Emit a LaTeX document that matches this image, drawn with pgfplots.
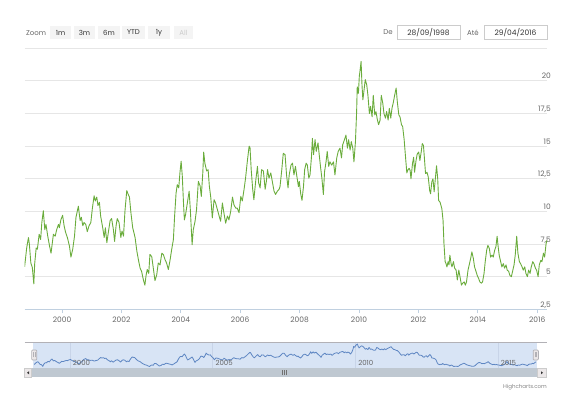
\documentclass[border=0pt]{standalone}
\usepackage{fontspec}
\setmainfont{Poppins}
\usepackage{pgfplots}
\usepackage{pgfplotstable}
\pgfplotsset{compat=1.18}
\definecolor{linegreen}{RGB}{106,172,60}
\definecolor{gridc}{RGB}{230,230,230}
\definecolor{axisc}{RGB}{192,208,224}
\definecolor{labc}{RGB}{102,102,102}
\definecolor{navfill}{RGB}{216,228,245}
\definecolor{navgrid}{RGB}{200,212,232}
\definecolor{navline}{RGB}{95,135,195}
\definecolor{btnfill}{RGB}{244,244,244}
\definecolor{boxborder}{RGB}{204,204,204}
\definecolor{scrollthumb}{RGB}{191,200,209}
\definecolor{scrollbtn}{RGB}{235,231,232}
\definecolor{handleborder}{RGB}{178,177,182}
\definecolor{txtdark}{RGB}{51,51,51}

\pgfplotstableread{
year val
1998.74 5.75
1998.81 7.2
1998.87 8.0
1998.90 7.5
1998.95 6.05
1999.00 5.7
1999.05 4.45
1999.08 6.0
1999.13 7.2
1999.17 7.1
1999.23 8.25
1999.28 7.85
1999.32 9.15
1999.37 10.05
1999.42 8.6
1999.46 9.0
1999.52 8.1
1999.58 7.35
1999.63 6.8
1999.68 7.7
1999.71 8.25
1999.77 8.1
1999.82 8.6
1999.88 9.0
1999.91 8.75
1999.96 9.35
2000.02 9.7
2000.07 8.9
2000.12 8.4
2000.18 8.0
2000.25 7.35
2000.30 6.5
2000.36 7.1
2000.42 8.1
2000.47 9.55
2000.55 10.4
2000.61 9.3
2000.65 9.55
2000.70 8.9
2000.74 9.15
2000.80 9.0
2000.85 8.45
2000.91 8.9
2000.97 9.15
2001.02 10.2
2001.08 11.2
2001.12 10.8
2001.17 11.1
2001.21 10.45
2001.26 10.7
2001.30 9.65
2001.37 8.75
2001.42 8.0
2001.46 8.75
2001.51 7.6
2001.56 8.4
2001.62 9.3
2001.67 9.45
2001.73 8.6
2001.77 7.7
2001.82 8.9
2001.86 9.45
2001.92 9.15
2001.98 8.0
2002.02 8.5
2002.07 8.1
2002.12 10.05
2002.18 11.6
2002.22 11.35
2002.27 11.1
2002.32 9.9
2002.38 8.75
2002.46 8.0
2002.52 6.95
2002.58 6.2
2002.63 5.65
2002.68 5.4
2002.74 4.75
2002.79 4.35
2002.83 5.1
2002.87 5.55
2002.92 5.25
2002.96 6.7
2003.02 6.55
2003.08 5.55
2003.13 4.7
2003.19 5.15
2003.24 6.05
2003.30 5.9
2003.36 6.8
2003.41 6.7
2003.47 6.3
2003.52 6.05
2003.58 5.55
2003.64 6.3
2003.69 7.05
2003.75 7.85
2003.79 9.6
2003.84 11.4
2003.88 12.05
2003.93 11.8
2003.97 12.95
2004.01 13.85
2004.05 12.7
2004.09 10.65
2004.12 9.35
2004.16 9.75
2004.22 10.65
2004.28 11.55
2004.32 10.15
2004.38 7.45
2004.42 8.6
2004.48 9.25
2004.53 10.15
2004.59 12.3
2004.65 11.95
2004.69 11.15
2004.74 12.95
2004.77 14.55
2004.81 13.7
2004.87 13.1
2004.92 13.2
2004.96 11.95
2005.01 11.05
2005.06 9.5
2005.12 10.9
2005.17 10.65
2005.23 10.15
2005.29 9.65
2005.34 9.25
2005.40 10.65
2005.45 9.9
2005.51 9.1
2005.57 9.65
2005.62 9.35
2005.68 10.0
2005.74 11.1
2005.79 10.5
2005.85 10.25
2005.90 10.25
2005.96 9.9
2006.02 11.15
2006.07 10.8
2006.13 11.7
2006.18 12.55
2006.24 13.85
2006.30 15.0
2006.33 14.9
2006.37 13.2
2006.42 11.7
2006.46 10.9
2006.52 12.3
2006.58 13.45
2006.62 12.2
2006.67 11.8
2006.72 13.2
2006.78 13.1
2006.84 11.7
2006.88 12.3
2006.92 13.2
2006.97 12.55
2007.03 12.95
2007.08 12.3
2007.14 11.55
2007.19 11.3
2007.25 11.55
2007.31 11.7
2007.34 11.9
2007.40 13.2
2007.45 14.45
2007.51 14.35
2007.56 12.8
2007.61 11.8
2007.65 12.8
2007.71 13.55
2007.76 13.7
2007.81 12.8
2007.86 13.45
2007.90 12.8
2007.96 11.9
2007.99 12.3
2008.04 11.3
2008.08 10.85
2008.13 11.9
2008.17 13.2
2008.22 13.7
2008.26 13.55
2008.31 12.55
2008.35 12.8
2008.40 14.2
2008.43 15.6
2008.47 14.35
2008.52 15.5
2008.56 14.6
2008.62 15.25
2008.66 14.35
2008.71 13.3
2008.75 12.55
2008.80 11.3
2008.84 13.05
2008.89 13.8
2008.93 14.6
2008.98 13.45
2009.02 13.8
2009.08 13.55
2009.14 13.8
2009.19 12.8
2009.25 14.1
2009.30 14.6
2009.36 14.85
2009.41 14.1
2009.45 15.1
2009.51 15.5
2009.56 15.85
2009.61 14.85
2009.65 15.5
2009.70 14.7
2009.74 15.35
2009.79 14.85
2009.83 13.8
2009.88 15.35
2009.92 17.65
2009.94 19.55
2009.98 19.05
2010.01 20.35
2010.03 20.7
2010.07 21.5
2010.10 19.7
2010.13 18.55
2010.17 19.3
2010.21 20.1
2010.26 19.7
2010.30 18.9
2010.35 17.5
2010.39 18.05
2010.44 17.25
2010.48 18.9
2010.53 17.4
2010.57 17.65
2010.62 17.0
2010.66 16.65
2010.71 17.0
2010.75 18.9
2010.80 18.3
2010.84 17.5
2010.89 17.15
2010.93 17.65
2010.98 17.0
2011.02 17.9
2011.07 17.15
2011.11 17.9
2011.16 18.4
2011.20 18.9
2011.25 19.45
2011.29 18.4
2011.34 17.4
2011.38 17.25
2011.43 16.65
2011.47 16.5
2011.52 15.5
2011.56 14.35
2011.61 12.95
2011.65 13.2
2011.69 13.3
2011.72 13.15
2011.75 12.5
2011.80 13.65
2011.84 14.15
2011.87 13.0
2011.92 13.9
2011.96 14.4
2012.01 14.55
2012.05 13.9
2012.10 14.65
2012.13 15.2
2012.17 15.05
2012.20 14.15
2012.24 12.9
2012.29 13.0
2012.33 12.65
2012.38 11.6
2012.41 11.35
2012.45 12.25
2012.49 12.5
2012.53 11.5
2012.57 12.5
2012.61 13.5
2012.65 12.5
2012.68 10.85
2012.73 10.7
2012.76 10.45
2012.79 10.2
2012.83 9.3
2012.86 7.55
2012.90 6.15
2012.93 6.0
2012.96 5.75
2013.00 6.15
2013.03 5.9
2013.06 6.65
2013.10 6.0
2013.13 5.75
2013.18 6.15
2013.22 5.65
2013.27 5.5
2013.31 4.75
2013.36 5.5
2013.40 5.0
2013.45 4.35
2013.49 4.5
2013.54 4.6
2013.58 4.35
2013.62 4.6
2013.67 5.5
2013.71 5.9
2013.76 6.4
2013.80 6.9
2013.85 6.4
2013.89 5.75
2013.94 5.4
2013.98 5.1
2014.03 4.85
2014.07 4.6
2014.12 4.5
2014.16 4.6
2014.21 5.25
2014.25 6.15
2014.30 7.05
2014.34 7.4
2014.39 7.15
2014.43 6.5
2014.48 6.65
2014.52 6.5
2014.57 7.05
2014.61 7.3
2014.65 8.1
2014.68 7.4
2014.72 6.65
2014.77 6.15
2014.81 5.75
2014.86 6.0
2014.90 5.65
2014.95 5.9
2014.99 5.5
2015.04 5.4
2015.08 5.1
2015.13 5.0
2015.17 5.4
2015.22 5.9
2015.26 6.65
2015.31 8.1
2015.35 6.8
2015.40 6.15
2015.44 6.0
2015.49 5.75
2015.53 5.5
2015.58 5.75
2015.62 5.25
2015.67 5.0
2015.71 5.5
2015.76 5.25
2015.80 5.75
2015.85 6.15
2015.89 6.0
2015.94 5.65
2015.98 5.5
2016.03 5.0
2016.07 5.9
2016.12 6.25
2016.16 6.15
2016.21 6.8
2016.25 6.5
2016.30 7.55
2016.33 7.8
}\datatable

\begin{document}
\begin{tikzpicture}[x=1pt,y=1pt]
\path[use as bounding box] (0,0) rectangle (567,395);

% ---- range selector ----
\node[anchor=base west, inner sep=0pt, text=labc, font=\fontsize{7}{8}\selectfont] at (26,359.5) {Zoom};
\foreach \xa/\xb/\lab/\col in {50/71/1m/txtdark, 74/95/3m/txtdark, 98/120/6m/txtdark, 122/145/YTD/txtdark, 148/170/1y/txtdark, 174/193/All/boxborder}{
  \fill[btnfill] (\xa,356) rectangle (\xb,369);
  \node[inner sep=0pt, text=\col, font=\fontsize{7}{8}\selectfont] at ({(\xa+\xb)/2},362.5) {\lab};
}
\node[inner sep=0pt, text=labc, font=\fontsize{7}{8}\selectfont] at (388,362.5) {De};
\node[inner sep=0pt, text=labc, font=\fontsize{7}{8}\selectfont] at (473,362.5) {Até};
\draw[boxborder, fill=white, line width=0.8pt] (397,356) rectangle (460,369.3);
\draw[boxborder, fill=white, line width=0.8pt] (484,356) rectangle (547,369.3);
\node[inner sep=0pt, text=txtdark, font=\fontsize{7.5}{8}\selectfont] at (428.5,362.6) {28/09/1998};
\node[inner sep=0pt, text=txtdark, font=\fontsize{7.5}{8}\selectfont] at (515.5,362.6) {29/04/2016};

% ---- main chart ----
\begin{axis}[
  at={(24.6pt,85.7pt)}, anchor=south west, scale only axis,
  width=522.4pt, height=261pt,
  xmin=1998.74, xmax=2016.33, ymin=2.5, ymax=22.5,
  axis line style={draw=none},
  xtick={2000,2002,2004,2006,2008,2010,2012,2014,2016},
  xticklabels={2000,2002,2004,2006,2008,2010,2012,2014,2016},
  ytick={2.5,5,7.5,10,12.5,15,17.5,20,22.5},
  yticklabels={{2,5},5,{7,5},10,{12,5},15,{17,5},20,{}},
  yticklabel pos=right,
  ymajorgrids, grid style={gridc, line width=1pt},
  tick pos=left, tick align=outside, major tick length=4pt,
  xtick style={axisc, line width=1pt},
  ytick style={draw=none},
  xticklabel style={font=\fontsize{7.5}{9}\selectfont, text=labc, inner sep=0pt, yshift=-3.3pt},
  yticklabel style={font=\fontsize{7.5}{9}\selectfont, text=labc, anchor=base east, inner sep=0pt, yshift=2pt},
]
\addplot[linegreen, line width=0.9pt, line join=round] table[x=year, y=val] {\datatable};
\draw[axisc, line width=1pt] (rel axis cs:0,0) -- (rel axis cs:1,0);
\end{axis}

% ---- navigator ----
\fill[navfill] (33,27) rectangle (537,52.7);
\begin{axis}[
  at={(34pt,27pt)}, anchor=south west, scale only axis,
  width=502pt, height=25.7pt,
  xmin=1998.74, xmax=2016.33, ymin=3.2, ymax=22.8,
  axis line style={draw=none},
  xtick={2000,2005,2010,2015}, xticklabels={},
  ytick=\empty,
  xmajorgrids, grid style={navgrid, line width=0.8pt},
  major tick length=0pt,
]
\addplot[navline, line width=0.8pt, line join=round] table[x=year, y=val] {\datatable};
\foreach \yr in {2000,2005,2010,2015}{
  \edef\tmp{\noexpand\node[anchor=base west, inner sep=0pt, text=labc, font=\noexpand\fontsize{7}{8}\noexpand\selectfont] at ([xshift=2.7pt]axis cs:\yr,4.95) {\yr};}
  \tmp
}
\end{axis}
\draw[handleborder, line width=0.8pt] (24.5,52.7) -- (547,52.7);
% handles
\foreach \hx in {34.2,535.8}{
  \draw[handleborder, fill=scrollbtn, rounded corners=1pt, line width=0.7pt] (\hx-2.6,35) rectangle (\hx+2.6,45);
  \draw[handleborder, line width=0.6pt] (\hx-0.8,37.5) -- (\hx-0.8,42.5);
  \draw[handleborder, line width=0.6pt] (\hx+0.8,37.5) -- (\hx+0.8,42.5);
}
% scrollbar
\fill[scrollthumb] (31.7,17.5) rectangle (537.3,27);
\draw[boxborder, fill=scrollbtn, line width=0.6pt] (24.7,17.5) rectangle (31.7,27);
\draw[boxborder, fill=scrollbtn, line width=0.6pt] (537.3,17.5) rectangle (546.7,27);
\fill[txtdark] (27,22.2) -- (29,23.7) -- (29,20.7) -- cycle;
\fill[txtdark] (543,22.2) -- (541,23.7) -- (541,20.7) -- cycle;
\foreach \gx in {282.3,284.5,286.7}{
  \draw[txtdark!70, line width=0.5pt] (\gx,19.8) -- (\gx,24.6);
}
% credits
\node[anchor=base east, inner sep=0pt, text=labc!80, font=\fontsize{5.5}{6}\selectfont] at (547,6.5) {Highcharts.com};
\end{tikzpicture}
\end{document}
